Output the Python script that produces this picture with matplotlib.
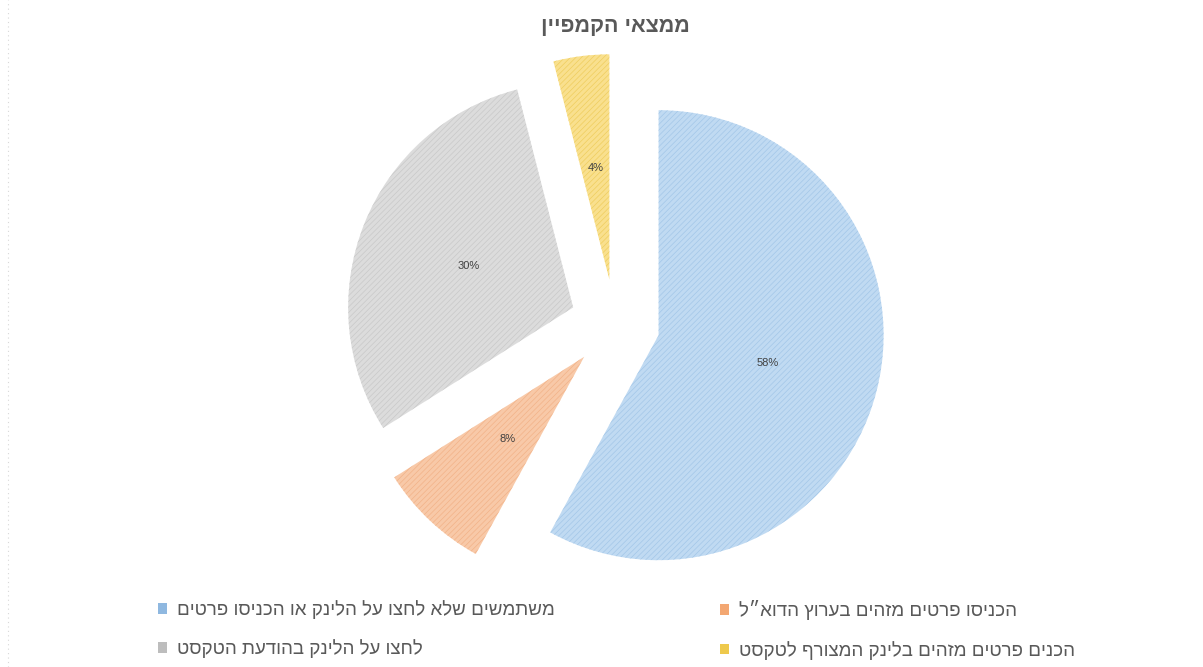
import matplotlib.pyplot as plt
from matplotlib.patches import Patch
from matplotlib.lines import Line2D

plt.rcParams['font.family'] = ['Liberation Sans', 'DejaVu Sans']
plt.rcParams['hatch.linewidth'] = 0.5

# data
title = 'ממצאי הקמפיין'
labels = ['משתמשים שלא לחצו על הלינק או הכניסו פרטים',
          'הכניסו פרטים מזהים בערוץ הדוא״ל',
          'לחצו על הלינק בהודעת הטקסט',
          'הכנים פרטים מזהים בלינק המצורף לטקסט']
values = [58, 8, 30, 4]

face_colors = ['#c0daf2', '#f8c9a8', '#dcdcdc', '#f9e08e']
hatch_colors = ['#a3c6e8', '#f2b288', '#c8c8c8', '#efcd5e']
legend_colors = ['#8fb8e0', '#f3a772', '#bdbdbd', '#eec94c']


def rtl(s):
    # matplotlib draws left to right, so flip the hebrew strings
    return s[::-1]


W, H = 1203, 667
fig = plt.figure(figsize=(W / 100, H / 100), dpi=100)

# pie placement in pixels
cx, cy, r = 615, 324, 225
L = 1.45
size = 2 * L * r
ax = fig.add_axes([(cx - size / 2) / W, (H - cy - size / 2) / H, size / W, size / H])

wedges, texts, autotexts = ax.pie(values, explode=[0.2] * len(values), startangle=90,
                                  counterclock=False, autopct='%1.0f%%', pctdistance=0.5,
                                  wedgeprops=dict(linewidth=0),
                                  textprops=dict(fontsize=8, color='#404040'))
for w, fc, hc in zip(wedges, face_colors, hatch_colors):
    w.set_facecolor(fc)
    w.set_edgecolor(hc)
    w.set_hatch('//////')
    w.set_linewidth(0)
ax.set_xlim(-L, L)
ax.set_ylim(-L, L)
ax.axis('off')

fig.text(cx / W, 1 - 27 / H, rtl(title), ha='center', va='center',
         fontsize=15.5, fontweight='bold', color='#595959')

# legend, two columns placed by hand
cols = [[0, 2], [1, 3]]
xs = [158, 720]
for col, x in zip(cols, xs):
    handles = [Patch(facecolor=legend_colors[i], edgecolor='none') for i in col]
    lg = fig.legend(handles, [rtl(labels[i]) for i in col], loc='upper left',
                    bbox_to_anchor=(x / W, 1 - 600 / H), frameon=False,
                    borderpad=0, borderaxespad=0, handlelength=0.5, handleheight=0.5,
                    handletextpad=0.5, labelspacing=1.1, fontsize=13.5, labelcolor='#595959')

# faint dotted border on the left
fig.add_artist(Line2D([8 / W, 8 / W], [0, 1], transform=fig.transFigure,
                      color='#d8d8d8', lw=0.8, ls=(0, (1, 3))))

fig.savefig('out.png', dpi=100, facecolor='white')
